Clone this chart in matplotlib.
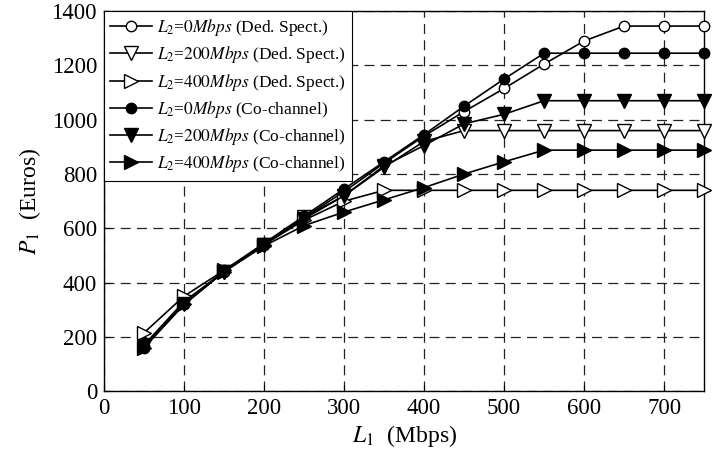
import matplotlib
matplotlib.use('Agg')
import matplotlib.pyplot as plt

plt.rcParams['font.family'] = ['Liberation Serif', 'DejaVu Serif']
plt.rcParams['mathtext.fontset'] = 'stix'

rate = [50, 100, 150, 200, 250, 300, 350, 400, 450, 500, 550, 600, 650, 700, 750]

ded_0 = [165, 320, 440, 540, 640, 735, 840, 940, 1030, 1115, 1205, 1290, 1345, 1345, 1345]
ded_200 = [170, 330, 440, 540, 640, 720, 825, 920, 960, 960, 960, 960, 960, 960, 960]
ded_400 = [215, 350, 445, 540, 630, 700, 740, 740, 740, 740, 740, 740, 740, 740, 740]
co_0 = [160, 320, 445, 545, 645, 745, 845, 945, 1050, 1150, 1245, 1245, 1245, 1245, 1245]
co_200 = [165, 320, 440, 540, 635, 720, 830, 905, 985, 1020, 1070, 1070, 1070, 1070, 1070]
co_400 = [160, 320, 440, 535, 610, 660, 705, 750, 800, 845, 888, 888, 888, 888, 888]

labels = [
    r'$L_2$=$\it{0Mbps}$ (Ded. Spect.)',
    r'$L_2$=$\it{200Mbps}$ (Ded. Spect.)',
    r'$L_2$=$\it{400Mbps}$ (Ded. Spect.)',
    r'$L_2$=$\it{0Mbps}$ (Co-channel)',
    r'$L_2$=$\it{200Mbps}$ (Co-channel)',
    r'$L_2$=$\it{400Mbps}$ (Co-channel)',
]

fig = plt.figure(figsize=(7.12, 4.63), dpi=100)
ax = fig.add_axes([0.146, 0.155, 0.843, 0.821])

series = [
    (ded_0, 'o', 'white', 7.5),
    (ded_200, 'v', 'white', 10),
    (ded_400, '>', 'white', 10),
    (co_0, 'o', 'black', 7.5),
    (co_200, 'v', 'black', 10),
    (co_400, '>', 'black', 10),
]
for (vals, mk, fc, ms), lab in zip(series, labels):
    ax.plot(rate, vals, color='black', lw=1.2, marker=mk, markersize=ms,
            markerfacecolor=fc, markeredgecolor='black', markeredgewidth=1.0,
            label=lab, clip_on=False, zorder=3)

ax.set_xlim(0, 750)
ax.set_ylim(0, 1400)
ax.set_xticks(range(0, 701, 100))
ax.set_yticks(range(0, 1401, 200))
ax.tick_params(direction='in', length=4, labelsize=16.5, pad=5)
ax.grid(True, color='#222222', linestyle=(0, (8, 5)), linewidth=0.9)
for s in ax.spines.values():
    s.set_linewidth(1.0)

ax.set_xlabel(r'$L_{\mathit{1}}$  (Mbps)', fontsize=17, labelpad=3)
ax.set_ylabel(r'$P_{\mathit{1}}$  (Euros)', fontsize=17, labelpad=6)

leg = ax.legend(loc='upper left', fontsize=12.5, frameon=True, fancybox=False,
                edgecolor='black', framealpha=1, borderaxespad=0,
                handlelength=2.4, handletextpad=0.3, labelspacing=0.36,
                borderpad=0.35)
leg.get_frame().set_linewidth(0.8)

fig.savefig('out.png', dpi=100)
plt.close()
